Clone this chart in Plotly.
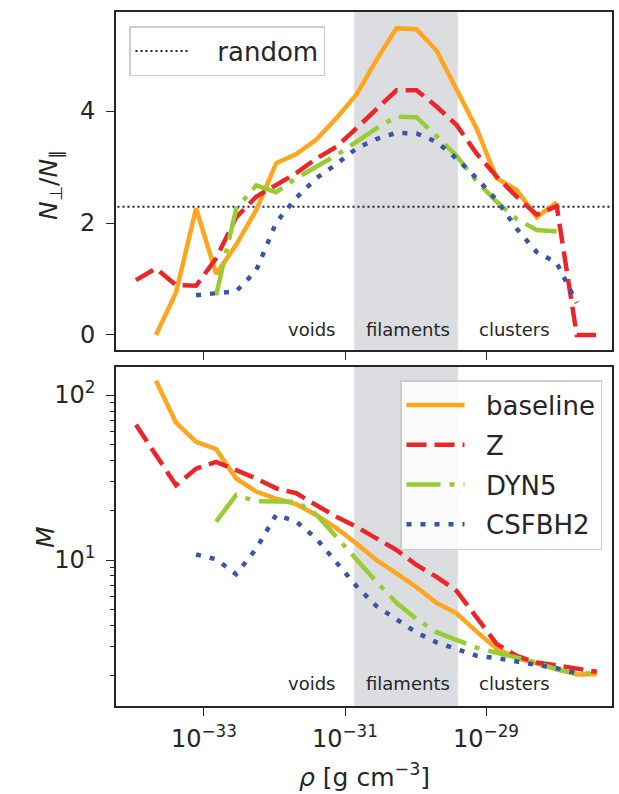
import plotly.graph_objects as go

# ---- data ----
# bin centres, log10(rho [g cm^-3])
log_rho = [-33.965, -33.681, -33.397, -33.112, -32.828, -32.544, -32.260, -31.976,
           -31.691, -31.407, -31.123, -30.839, -30.555, -30.270, -29.986, -29.702,
           -29.418, -29.134, -28.850, -28.565, -28.281, -27.997, -27.713, -27.429]
rho = [10 ** v for v in log_rho]

# top panel: N_perp / N_par
ratio_baseline = [None, 0.0, 0.76, 2.26, 1.09, 1.61, 2.23, 3.07, 3.23, 3.49, 3.87, 4.29,
                  4.91, 5.48, 5.46, 5.08, 4.38, 3.69, 2.80, 2.59, 2.10, 2.37, None, None]
ratio_Z = [0.98, 1.19, 0.89, 0.88, 1.37, 2.10, 2.47, 2.68, 2.89, 3.15, 3.36, 3.69,
           4.02, 4.37, 4.37, 4.08, 3.75, 3.24, 2.83, 2.47, 2.15, 2.30, 0.0, 0.0]
ratio_DYN5 = [None, None, None, None, 0.71, 2.25, 2.67, 2.55, 2.80, 3.01, 3.21, 3.45,
              3.69, 3.90, 3.89, 3.55, 3.20, 2.75, 2.38, 2.07, 1.875, 1.85, None, None]
ratio_CSFBH2 = [None, None, None, 0.71, 0.74, 0.78, 1.15, 2.01, 2.45, 2.80, 3.05, 3.33,
                3.50, 3.61, 3.60, 3.45, 3.15, 2.80, 2.41, 1.90, 1.48, 1.29, 0.57, None]
random_level = 2.29

# bottom panel: M
M_baseline = [None, 122, 68, 52, 47, 31.2, 26.0, 23.5, 21.8, 18.7, 15.6, 12.6,
              10.0, 8.3, 6.84, 5.5, 4.75, 3.68, 2.9, 2.54, 2.35, 2.2, 2.02, 2.04]
M_Z = [66, 43, 28.4, 35.8, 39.3, 35.1, 31.2, 27.2, 25.4, 21.5, 18.3, 15.9,
       13.5, 11.5, 9.33, 7.9, 6.5, 4.5, 3.1, 2.62, 2.39, 2.3, 2.2, 2.1]
M_DYN5 = [None, None, None, None, 17.1, 24.8, 22.7, 22.7, 22.5, 18.9, 13.8, 10.0,
          7.4, 5.5, 4.4, 3.65, 3.25, 2.94, 2.74, 2.54, 2.39, 2.17, 2.05, 2.06]
M_CSFBH2 = [None, None, None, 10.8, 10.1, 8.2, 11.7, 18.8, 17.1, 13.5, 9.7, 6.95,
            5.26, 4.33, 3.63, 3.17, 2.88, 2.63, 2.54, 2.42, 2.34, 2.21, 2.06, None]

filament_band = [-30.87, -29.40]   # log10 rho
region_labels = ["voids", "filaments", "clusters"]
region_label_x = [-31.47, -30.106, -28.59]  # log10 rho of label centres

x_ticks = [-33, -31, -29]

# ---- styles ----
W, H = 619, 794
FONT = "DejaVu Sans"
TXT = "#262626"
styles = {
    "baseline": dict(color="#FFA51E", dash="solid"),
    "Z": dict(color="#EC2628", dash="20px,8px"),
    "DYN5": dict(color="#99CC33", dash="34px,9px,5px,9px"),
    "CSFBH2": dict(color="#3A55A6", dash="5px,9px"),
}
LW = 4.5
PAD = "\u00a0\u00a0"  # small gap between legend sample and label

fig = go.Figure()

top = {"baseline": ratio_baseline, "Z": ratio_Z, "DYN5": ratio_DYN5, "CSFBH2": ratio_CSFBH2}
bot = {"baseline": M_baseline, "Z": M_Z, "DYN5": M_DYN5, "CSFBH2": M_CSFBH2}

fig.add_trace(go.Scatter(x=[1e-36, 1e-26], y=[random_level, random_level], mode="lines",
                         line=dict(color="#222222", width=2, dash="2px,3px"),
                         name=PAD + "\u00a0random", legend="legend", xaxis="x", yaxis="y"))
for name, vals in top.items():
    s = styles[name]
    fig.add_trace(go.Scatter(x=rho, y=vals, mode="lines", name=name, showlegend=False,
                             line=dict(color=s["color"], dash=s["dash"], width=LW),
                             xaxis="x", yaxis="y"))
for name, vals in bot.items():
    s = styles[name]
    fig.add_trace(go.Scatter(x=rho, y=vals, mode="lines", name=PAD + name, legend="legend2",
                             legendgroup=name,
                             line=dict(color=s["color"], dash=s["dash"], width=LW),
                             xaxis="x2", yaxis="y2"))

xl = 116 / W
xr = 612 / W
top_dom = [1 - 350 / H, 1 - 12 / H]
bot_dom = [1 - 706 / H, 1 - 367 / H]
xrange = [-34.248, -27.213]

axis_common = dict(showline=True, linecolor=TXT, linewidth=1.6, mirror=True,
                   ticks="outside", ticklen=8, tickwidth=1.3, tickcolor=TXT,
                   showgrid=False, zeroline=False,
                   tickfont=dict(family=FONT, size=24, color=TXT))

fig.update_layout(
    width=W, height=H, margin=dict(l=0, r=0, t=0, b=0),
    paper_bgcolor="white", plot_bgcolor="white",
    font=dict(family=FONT, color=TXT),
    xaxis=dict(domain=[xl, xr], anchor="y", type="log", range=xrange,
               tickvals=[10 ** v for v in x_ticks], showticklabels=False, **axis_common),
    yaxis=dict(domain=top_dom, anchor="x", range=[-0.268, 5.768], tickvals=[0, 2, 4],
               ticklabelstandoff=6, **axis_common),
    xaxis2=dict(domain=[xl, xr], anchor="y2", type="log", range=xrange,
                tickvals=[10 ** v for v in x_ticks],
                ticktext=["10<sup>\u2212%d</sup>" % (-v) for v in x_ticks],
                ticklabelstandoff=2, **axis_common),
    yaxis2=dict(domain=bot_dom, anchor="x2", type="log", range=[0.115, 2.170],
                tickvals=[10, 100], ticktext=["10<sup>1</sup>", "10<sup>2</sup>"],
                ticklabelstandoff=6,
                minor=dict(tickvals=[2, 3, 4, 5, 6, 7, 8, 9, 20, 30, 40, 50, 60, 70, 80, 90],
                           ticks="outside", ticklen=4.5, tickwidth=1, tickcolor=TXT),
                **axis_common),
    legend=dict(x=129 / W, y=1 - 26 / H, xanchor="left", yanchor="top",
                font=dict(family=FONT, size=26, color=TXT),
                bgcolor="rgba(255,255,255,0.85)", bordercolor="#cccccc", borderwidth=1.5,
                itemwidth=52),
    legend2=dict(x=400 / W, y=1 - 380 / H, xanchor="left", yanchor="top",
                 font=dict(family=FONT, size=26, color=TXT),
                 bgcolor="rgba(255,255,255,0.85)", bordercolor="#cccccc", borderwidth=1.5,
                 itemwidth=58, tracegroupgap=3),
)

# filament band in both panels
for yr in ["y domain", "y2 domain"]:
    xr_ref = "x" if yr == "y domain" else "x2"
    fig.add_shape(type="rect", xref=xr_ref, yref=yr,
                  x0=10 ** filament_band[0], x1=10 ** filament_band[1], y0=0, y1=1,
                  fillcolor="#DCDDE0", line_width=0, layer="below")

# region labels in both panels
for xref, yref, ypos in [("x", "y domain", 0.062), ("x2", "y2 domain", 0.065)]:
    for lab, lx in zip(region_labels, region_label_x):
        fig.add_annotation(x=lx, y=ypos, xref=xref, yref=yref, text=lab, showarrow=False,
                           font=dict(family=FONT, size=18, color=TXT),
                           xanchor="center", yanchor="middle")

# axis titles
fig.add_annotation(x=50 / W, y=1 - 185 / H, xref="paper", yref="paper",
                   xanchor="center", yanchor="middle",
                   text="<i>N</i><sub>\u22a5</sub>/<i>N</i><sub>\u2225</sub>", textangle=-90,
                   showarrow=False, font=dict(family=FONT, size=25, color=TXT))
fig.add_annotation(x=45 / W, y=1 - 537 / H, xref="paper", yref="paper",
                   xanchor="center", yanchor="middle",
                   text="<i>M</i>", textangle=-90,
                   showarrow=False, font=dict(family=FONT, size=25, color=TXT))
fig.add_annotation(x=364 / W, y=0, xref="paper", yref="paper",
                   xanchor="center", yanchor="bottom",
                   text="<i>\u03c1</i> [g cm<sup>\u22123</sup>]",
                   showarrow=False, font=dict(family=FONT, size=25, color=TXT))

fig.write_html("out.html")
